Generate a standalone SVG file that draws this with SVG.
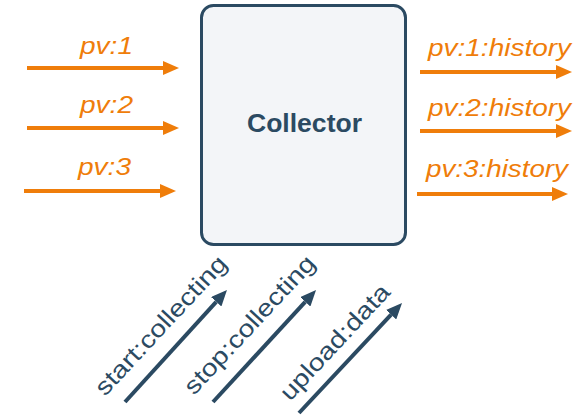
<svg xmlns="http://www.w3.org/2000/svg" width="585" height="416" viewBox="0 0 585 416">
<defs>
<style>
.o{font-family:"Liberation Sans",Arial,sans-serif;font-size:24px;font-style:italic;fill:#EF7D0A}
.d{font-family:"Liberation Sans",Arial,sans-serif;font-size:24px;fill:#2B4A62}
.ol{stroke:#EF7D0A;stroke-width:4;fill:none;marker-end:url(#ao)}
.dl{stroke:#2B4A62;stroke-width:4;fill:none;marker-end:url(#ad)}
</style>
<marker id="ao" markerUnits="userSpaceOnUse" markerWidth="16" markerHeight="14" viewBox="0 0 16 14" refX="0" refY="7" orient="auto"><path d="M0,0 L16,7 L0,14 z" fill="#EF7D0A"/></marker>
<marker id="ad" markerUnits="userSpaceOnUse" markerWidth="16" markerHeight="14" viewBox="0 0 16 14" refX="0" refY="7" orient="auto"><path d="M0,0 L16,7 L0,14 z" fill="#2B4A62"/></marker>
</defs>
<rect width="585" height="416" fill="#ffffff"/>
<g id="collector">
<rect x="201.5" y="5.5" width="204" height="239" rx="12" fill="#F3F5F8" stroke="#2B4A62" stroke-width="3"/>
<text x="304.5" y="132" text-anchor="middle" font-family="Liberation Sans,Arial,sans-serif" font-size="26" font-weight="bold" fill="#2B4A62" textLength="115" lengthAdjust="spacingAndGlyphs">Collector</text>
</g>
<g id="connectors">
<line class="ol" x1="27" y1="68" x2="163" y2="68"/>
<line class="ol" x1="27" y1="128" x2="163" y2="128"/>
<line class="ol" x1="24" y1="191" x2="160" y2="191"/>
<line class="ol" x1="420" y1="72" x2="556" y2="72"/>
<line class="ol" x1="420" y1="131" x2="556" y2="131"/>
<line class="ol" x1="417" y1="194" x2="552" y2="194"/>
<line class="dl" x1="125" y1="402" x2="216.2" y2="301.8"/>
<line class="dl" x1="213" y1="402" x2="305.2" y2="301.8"/>
<line class="dl" x1="299" y1="413" x2="391.1" y2="314.7"/>
</g>
<g id="labels">
<text class="o" x="80" y="54" textLength="53" lengthAdjust="spacingAndGlyphs">pv:1</text>
<text class="o" x="80" y="113" textLength="53" lengthAdjust="spacingAndGlyphs">pv:2</text>
<text class="o" x="78" y="175" textLength="53" lengthAdjust="spacingAndGlyphs">pv:3</text>
<text class="o" x="428" y="56" textLength="143" lengthAdjust="spacingAndGlyphs">pv:1:history</text>
<text class="o" x="428" y="116" textLength="143" lengthAdjust="spacingAndGlyphs">pv:2:history</text>
<text class="o" x="426" y="177" textLength="142" lengthAdjust="spacingAndGlyphs">pv:3:history</text>
<text class="d" transform="translate(105,397) rotate(-47)" textLength="181" lengthAdjust="spacingAndGlyphs">start:collecting</text>
<text class="d" transform="translate(194,396) rotate(-47)" textLength="180" lengthAdjust="spacingAndGlyphs">stop:collecting</text>
<text class="d" transform="translate(290,402) rotate(-47)" textLength="149" lengthAdjust="spacingAndGlyphs">upload:data</text>
</g>
</svg>
